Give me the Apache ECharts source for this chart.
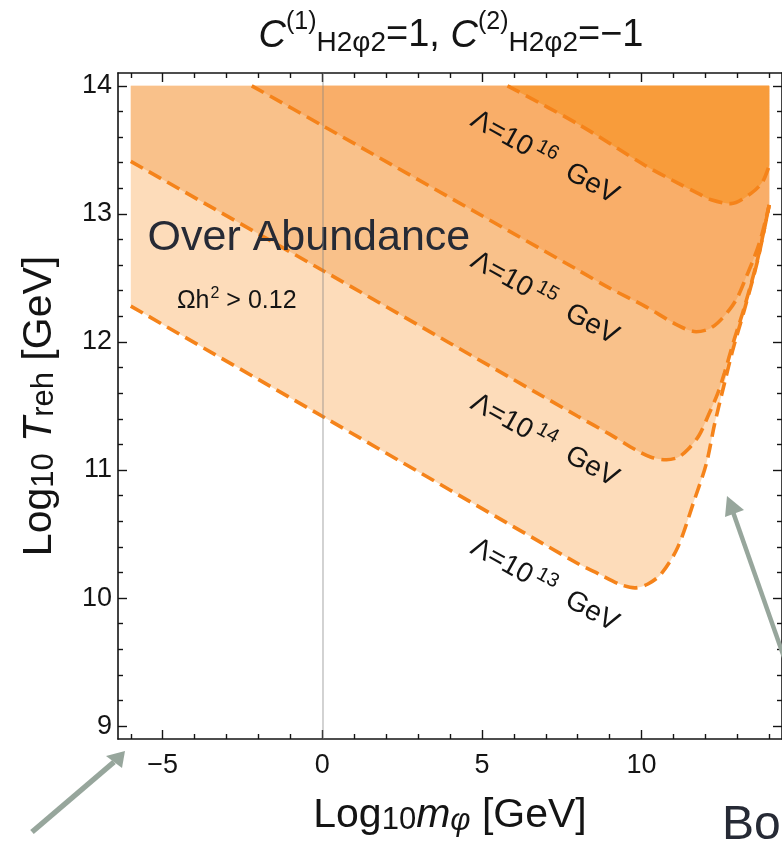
<!DOCTYPE html>
<html>
<head>
<meta charset="utf-8">
<script src="https://cdn.jsdelivr.net/npm/echarts@6/dist/echarts.min.js"></script>
<style>
html,body{margin:0;padding:0;background:#fff}
#main{width:782px;height:848px}
</style>
</head>
<body>
<div id="main"></div>
<script>
// contour curves Omega h^2 = 0.12 for several cut-off scales, [log10 m, log10 T]
var lam13 = [[-6,12.28],[0,11.42],[8,10.27],[8.65,10.19],[9.3,10.11],[9.79,10.08],[10.2,10.11],[10.62,10.19],[11.14,10.4],[11.66,10.77],[12.03,11.05],[12.29,11.36],[12.6,11.68],[12.86,11.94],[13.22,12.25],[13.64,12.64],[14,13.07]];
var lam14 = [[-6,13.41],[0,12.56],[8,11.42],[9,11.28],[9.8,11.16],[10.3,11.1],[10.78,11.08],[11.15,11.1],[11.45,11.16],[11.8,11.27],[12.08,11.42],[12.39,11.6],[12.6,11.76],[12.88,12.0],[13.22,12.27],[13.64,12.65],[14,13.07]];
var lam15 = [[-2.21,14],[0,13.69],[8.02,12.56],[9,12.42],[10.1,12.28],[11.14,12.13],[11.71,12.08],[12.1,12.1],[12.39,12.15],[12.75,12.25],[13.01,12.35],[13.3,12.52],[13.53,12.66],[13.75,12.82],[14,13.07]];
var lam16 = [[5.8,14],[8.02,13.7],[10.1,13.38],[11.14,13.24],[11.77,13.16],[12.18,13.11],[12.8,13.08],[13.43,13.16],[13.79,13.25],[14,13.38]];

var lamExp = ['13', '14', '15', '16'];
var lamLabelX = [6.96, 6.96, 6.96, 6.96];
var lamLabelY = [10.1, 11.23, 12.34, 13.44];

// tick labels / tick positions
var xMajor = [-5, 0, 5, 10];
var xMinor = [-6, -4, -3, -2, -1, 1, 2, 3, 4, 6, 7, 8, 9, 11, 12, 13, 14];
var yMajor = [9, 10, 11, 12, 13, 14];
var yMinor = [9.2, 9.4, 9.6, 9.8, 10.2, 10.4, 10.6, 10.8, 11.2, 11.4, 11.6, 11.8, 12.2, 12.4, 12.6, 12.8, 13.2, 13.4, 13.6, 13.8];

var F = '"Liberation Sans", Arial, sans-serif';
var INK = '#141414';
var fills = ['#FDDCBA', '#F9C18A', '#F9AE69', '#F89C3B'];
var DASH = '#F5831A';

var myChart = echarts.init(document.getElementById('main'));

function frameX(pos, ticks, len, line) {
    return {
        type: 'value', position: pos, min: -6.4, max: 14.4,
        axisLine: {show: line, onZero: false, lineStyle: {color: INK, width: 1.6}},
        axisTick: {show: true, inside: true, length: len, customValues: ticks, lineStyle: {color: INK, width: 1.4}},
        axisLabel: {show: false},
        splitLine: {show: false}
    };
}
function frameY(pos, ticks, len, line) {
    return {
        type: 'value', position: pos, min: 8.9, max: 14.1,
        axisLine: {show: line, onZero: false, lineStyle: {color: INK, width: 1.6}},
        axisTick: {show: true, inside: true, length: len, customValues: ticks, lineStyle: {color: INK, width: 1.4}},
        axisLabel: {show: false},
        splitLine: {show: false}
    };
}

var xMain = frameX('bottom', xMajor, 9, true);
xMain.axisLabel = {
    show: true, customValues: xMajor, margin: 13,
    fontSize: 27, fontFamily: F, color: INK,
    formatter: function (v) { return String(v).replace('-', '\u2212'); }
};
xMain.name = '{m|Log}{s|10}{i|m}{si|\u03c6}{m| [GeV]}';
xMain.nameLocation = 'middle';
xMain.nameGap = 55;
xMain.nameTextStyle = {
    color: INK, fontFamily: F,
    rich: {
        m: {fontSize: 41, fontFamily: F, color: INK},
        s: {fontSize: 31, fontFamily: F, color: INK, padding: [10, 0, 0, 0]},
        i: {fontSize: 41, fontFamily: F, color: INK, fontStyle: 'italic'},
        si: {fontSize: 31, fontFamily: F, color: INK, fontStyle: 'italic', padding: [12, 0, 0, 0]}
    }
};

var yMain = frameY('left', yMajor, 9, true);
yMain.axisLabel = {show: true, customValues: yMajor, margin: 6, fontSize: 27, fontFamily: F, color: INK};
yMain.name = '{m|Log}{s|10}{m| }{i|T}{s|reh}{m| [GeV]}';
yMain.nameLocation = 'middle';
yMain.nameRotate = 90;
yMain.nameGap = 58;
yMain.nameTextStyle = {
    color: INK, fontFamily: F,
    rich: {
        m: {fontSize: 41, fontFamily: F, color: INK},
        s: {fontSize: 31, fontFamily: F, color: INK, padding: [10, 0, 0, 0]},
        i: {fontSize: 41, fontFamily: F, color: INK, fontStyle: 'italic'}
    }
};

function fill(data, i) {
    return {
        type: 'line', data: data, symbol: 'none', showSymbol: false,
        smooth: 0.3, silent: true, z: 2,
        lineStyle: {color: DASH, width: 3.6, type: [14, 7]},
        areaStyle: {color: fills[i], opacity: 1, origin: 14}
    };
}

var labelData = [];
for (var k = 0; k < lamExp.length; k++) {
    labelData.push({
        value: [lamLabelX[k], lamLabelY[k]],
        label: {formatter: '{m|\u039b=10}{sup|' + lamExp[k] + '}{m|  GeV}', rotate: -29}
    });
}
labelData.push({
    value: [-0.42, 12.81],
    label: {formatter: '{big|Over Abundance}'}
});
labelData.push({
    value: [-2.68, 12.32],
    label: {formatter: '{o|\u03a9h}{osup|2}{o| > 0.12}'}
});

var option = {
    animation: false,
    grid: {left: 118, top: 73, width: 666, height: 666},
    xAxis: [xMain, frameX('bottom', xMinor, 5, false), frameX('top', xMajor, 9, true), frameX('top', xMinor, 5, false)],
    yAxis: [yMain, frameY('left', yMinor, 5, false), frameY('right', yMajor, 9, true), frameY('right', yMinor, 5, false)],
    series: [
        fill(lam13, 0), fill(lam14, 1), fill(lam15, 2), fill(lam16, 3),
        {
            type: 'scatter', symbolSize: 0, silent: true, z: 3,
            itemStyle: {opacity: 1},
            data: labelData,
            label: {
                show: true, position: 'inside', color: INK, opacity: 1,
                rich: {
                    m: {fontSize: 28, fontFamily: F, color: INK},
                    sup: {fontSize: 20, fontFamily: F, color: INK, padding: [0, 0, 16, 4]},
                    big: {fontSize: 43, fontFamily: F, color: '#262a35'},
                    o: {fontSize: 25, fontFamily: F, color: INK},
                    osup: {fontSize: 16, fontFamily: F, color: INK, padding: [0, 0, 15, 1]}
                }
            },
            markLine: {
                silent: true, symbol: ['none', 'none'],
                label: {show: false},
                lineStyle: {color: 'rgba(130,130,130,0.45)', width: 1.6, type: 'solid'},
                data: [{xAxis: 0}]
            }
        }
    ],
    graphic: [
        {
            type: 'text', x: 451, y: 36, z: 100,
            style: {
                text: '{i|C}{sup|(1)}{sub|H2\u03c62}{m|=1, }{i|C}{sup|(2)}{sub|H2\u03c62}{m|=\u22121}',
                align: 'center', verticalAlign: 'middle',
                rich: {
                    i: {fontSize: 38, fontFamily: F, fontStyle: 'italic', fill: INK},
                    m: {fontSize: 38, fontFamily: F, fill: INK},
                    sup: {fontSize: 25, fontFamily: F, fill: INK, padding: [0, 0, 28, 0]},
                    sub: {fontSize: 28, fontFamily: F, fill: INK, padding: [14, 0, 0, 0]}
                }
            }
        },
        {type: 'line', z: 100, shape: {x1: 32, y1: 832, x2: 114, y2: 762}, style: {stroke: '#97A69C', lineWidth: 5.5}},
        {type: 'polygon', z: 100, shape: {points: [[125, 751], [106, 756], [122, 768]]}, style: {fill: '#97A69C'}},
        {type: 'line', z: 100, shape: {x1: 792, y1: 680, x2: 733, y2: 512}, style: {stroke: '#97A69C', lineWidth: 4.5}},
        {type: 'polygon', z: 100, shape: {points: [[727, 496], [725, 517], [744, 510]]}, style: {fill: '#97A69C'}},
        {
            type: 'text', x: 722, y: 826, z: 100,
            style: {text: 'Bo', fontSize: 48, fontFamily: F, fill: '#262a35', align: 'left', verticalAlign: 'middle'}
        }
    ]
};
myChart.setOption(option);
</script>
</body>
</html>
